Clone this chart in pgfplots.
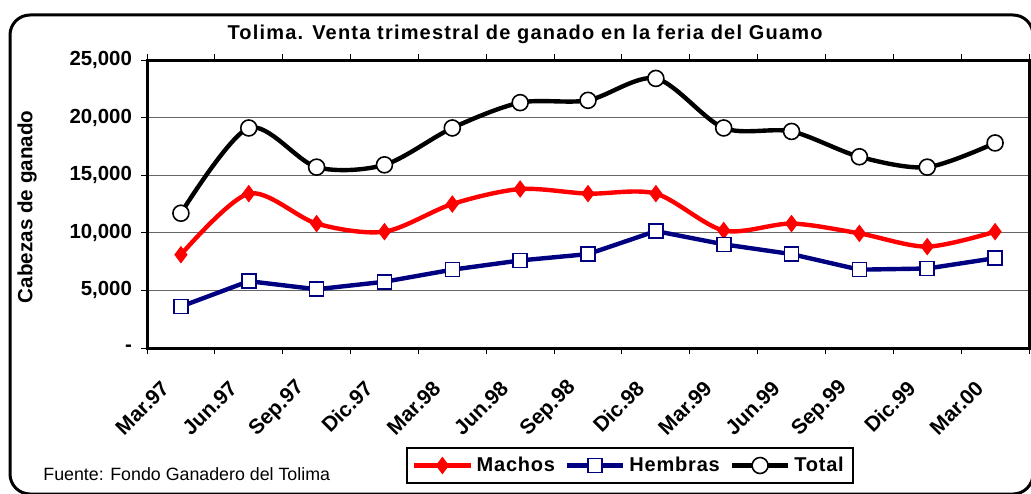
\documentclass[border=0pt]{standalone}
\usepackage{pgfplots}
\pgfplotsset{compat=1.18}
\usepackage{fontspec}
\setmainfont{Liberation Sans}
\definecolor{navyb}{RGB}{0,0,128}
\begin{document}
\begin{tikzpicture}
\useasboundingbox (0,0) rectangle (515.5pt,246.5pt);
\draw[line width=1.5pt, rounded corners=10pt] (5pt,239pt) rectangle (516.5pt,-0.5pt);
\begin{axis}[
  at={(73.5pt,72.5pt)}, anchor=south west,
  scale only axis, width=441pt, height=144pt,
  xmin=-0.5, xmax=12.5, ymin=0, ymax=25000,
  axis line style={line width=1.5pt},
  tick align=outside,
  major tick length=0pt, minor tick length=3pt,
  tick style={black, line width=0.5pt},
  xtick={0,1,2,3,4,5,6,7,8,9,10,11,12},
  xticklabels={Mar.97,Jun.97,Sep.97,Dic.97,Mar.98,Jun.98,Sep.98,Dic.98,Mar.99,Jun.99,Sep.99,Dic.99,Mar.00},
  minor xtick={-0.5,0.5,...,12.5},
  xticklabel style={rotate=45, anchor=east, xshift=-15pt, yshift=-7.5pt, font=\bfseries\fontsize{10.5}{12}\selectfont},
  ytick={0,5000,10000,15000,20000,25000},
  minor ytick={0,5000,10000,15000,20000,25000},
  yticklabels={-,{5,000},{10,000},{15,000},{20,000},{25,000}},
  scaled y ticks=false,
  yticklabel style={xshift=-4pt, font=\bfseries\fontsize{10.2}{12}\selectfont},
  ymajorgrids, major grid style={gray!80!black, line width=0.6pt},
  title={Tolima. Venta trimestral de ganado en la feria del Guamo},
  title style={at={(axis description cs:0.4286,1.047)}, anchor=center, font=\bfseries\fontsize{10}{12}\selectfont\addfontfeature{LetterSpace=6}},
  ylabel={Cabezas de ganado},
  ylabel style={at={(axis description cs:-0.136,0.49)}, anchor=center, font=\bfseries\fontsize{10.3}{12}\selectfont},
  legend columns=3,
  legend style={at={(axis description cs:0.5476,-0.408)}, anchor=center, draw=black, line width=1pt,
    font=\bfseries\fontsize{10}{12}\selectfont\addfontfeature{LetterSpace=4}, inner sep=2.5pt,
    /tikz/every even column/.append style={column sep=3pt}},
  legend image code/.code={\draw[mark repeat=2,mark phase=2] plot coordinates {(0pt,0pt) (14pt,0pt) (28pt,0pt)};},
]
\addplot[red, line width=2.2pt, smooth, mark=diamond*, mark size=4pt, mark options={solid, fill=red, draw=red, line width=0.5pt}]
  coordinates {(0,8100) (1,13400) (2,10800) (3,10100) (4,12500) (5,13800) (6,13400) (7,13400) (8,10200) (9,10800) (10,9950) (11,8800) (12,10100)};
\addlegendentry{Machos}
\addplot[navyb, line width=2.2pt, mark=square*, mark size=3.5pt, mark options={solid, fill=white, draw=navyb, line width=0.8pt}]
  coordinates {(0,3600) (1,5800) (2,5100) (3,5750) (4,6800) (5,7600) (6,8150) (7,10150) (8,9000) (9,8150) (10,6800) (11,6900) (12,7800)};
\addlegendentry{Hembras}
\addplot[black, line width=2.2pt, smooth, mark=*, mark size=4pt, mark options={solid, fill=white, draw=black, line width=0.8pt}]
  coordinates {(0,11700) (1,19100) (2,15700) (3,15900) (4,19100) (5,21300) (6,21500) (7,23400) (8,19100) (9,18800) (10,16600) (11,15700) (12,17800)};
\addlegendentry{Total}
\end{axis}
\node[anchor=base west, font=\fontsize{8.9}{10}\selectfont, inner sep=0pt] at (21.5pt,6.5pt) {Fuente: Fondo Ganadero del Tolima};
\end{tikzpicture}
\end{document}
